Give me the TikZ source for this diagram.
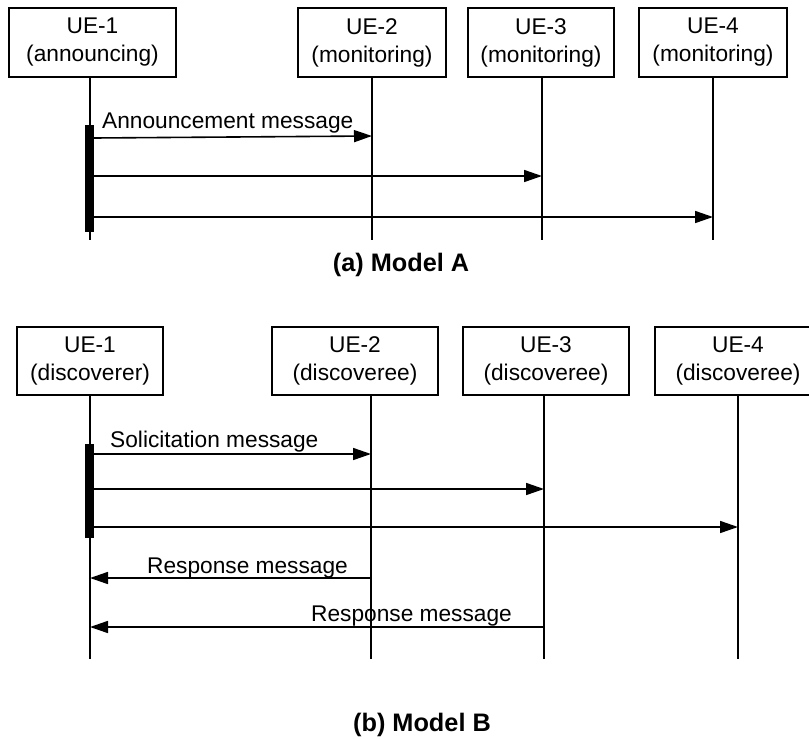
\documentclass[tikz,border=0pt]{standalone}
\usepackage{fontspec}
\setmainfont{Liberation Sans}
\usetikzlibrary{arrows.meta}
\begin{document}
\begin{tikzpicture}[x=1pt,y=-1pt,
  ent/.style={draw, line width=1.6pt, inner sep=0pt, align=center,
    font=\fontsize{22.7}{28}\selectfont, minimum height=69pt},
  life/.style={line width=1.6pt},
  msg/.style={line width=1.6pt, -{Triangle[length=18pt,width=12pt]}},
  lbl/.style={font=\fontsize{22.7}{28}\selectfont, inner sep=0pt, anchor=base west},
  ttl/.style={font=\fontsize{25.3}{30}\bfseries\selectfont, inner sep=0pt},
  actbar/.style={fill=black, inner sep=0pt, minimum width=9pt}]
\clip (0,0) rectangle (809,739);
\fill[white] (0,0) rectangle (809,739);

% ---------- Model A ----------
\node[ent, minimum width=167pt] (ue1a) at (92.5,42.5) {UE-1\\(announcing)};
\node[ent, minimum width=148pt] (ue2a) at (372,42.5) {UE-2\\(monitoring)};
\node[ent, minimum width=146pt] (ue3a) at (541,42.5) {UE-3\\(monitoring)};
\node[ent, minimum width=148pt] (ue4a) at (713,42.5) {UE-4\\(monitoring)};

\coordinate (l1a) at (90,240);
\coordinate (l2a) at (372,240);
\coordinate (l3a) at (542,240);
\coordinate (l4a) at (713,240);
\draw[life] (ue1a.south -| l1a) -- (l1a);
\draw[life] (ue2a.south -| l2a) -- (l2a);
\draw[life] (ue3a.south -| l3a) -- (l3a);
\draw[life] (ue4a.south -| l4a) -- (l4a);

\node[actbar, minimum height=107pt] (bara) at (89.5,178.5) {};

\coordinate (ma1s) at (94,138);  \coordinate (ma1e) at (372,136);
\coordinate (ma2s) at (94,176);  \coordinate (ma2e) at (542,176);
\coordinate (ma3s) at (94,217);  \coordinate (ma3e) at (713,217);
\draw[msg] (ma1s) -- (ma1e);
\draw[msg] (ma2s) -- (ma2e);
\draw[msg] (ma3s) -- (ma3e);
\node[lbl] (lblA) at (102,128) {Announcement message};

\node[ttl] (titleA) at (401,265) {(a) Model A};

% ---------- Model B ----------
\node[ent, minimum width=146pt, minimum height=68pt] (ue1b) at (90,361) {UE-1\\(discoverer)};
\node[ent, minimum width=166pt, minimum height=68pt] (ue2b) at (355,361) {UE-2\\(discoveree)};
\node[ent, minimum width=166pt, minimum height=68pt] (ue3b) at (546,361) {UE-3\\(discoveree)};
\node[ent, minimum width=166pt, minimum height=68pt] (ue4b) at (738,361) {UE-4\\(discoveree)};

\coordinate (l1b) at (90,659);
\coordinate (l2b) at (371,659);
\coordinate (l3b) at (544,659);
\coordinate (l4b) at (738,659);
\draw[life] (ue1b.south -| l1b) -- (l1b);
\draw[life] (ue2b.south -| l2b) -- (l2b);
\draw[life] (ue3b.south -| l3b) -- (l3b);
\draw[life] (ue4b.south -| l4b) -- (l4b);

\node[actbar, minimum height=94pt] (barb) at (89.5,491) {};

\coordinate (mb1s) at (94,454);  \coordinate (mb1e) at (371,454);
\coordinate (mb2s) at (94,489);  \coordinate (mb2e) at (544,489);
\coordinate (mb3s) at (94,527);  \coordinate (mb3e) at (738,527);
\coordinate (rb1s) at (371,578); \coordinate (rb1e) at (90,578);
\coordinate (rb2s) at (544,627); \coordinate (rb2e) at (90,627);
\draw[msg] (mb1s) -- (mb1e);
\draw[msg] (mb2s) -- (mb2e);
\draw[msg] (mb3s) -- (mb3e);
\draw[msg] (rb1s) -- (rb1e);
\draw[msg] (rb2s) -- (rb2e);
\node[lbl] (lblS) at (110,447) {Solicitation message};
\node[lbl] (lblR1) at (147,573) {Response message};
\node[lbl] (lblR2) at (311,621) {Response message};

\node[ttl] (titleB) at (422,725) {(b) Model B};
\end{tikzpicture}
\end{document}
